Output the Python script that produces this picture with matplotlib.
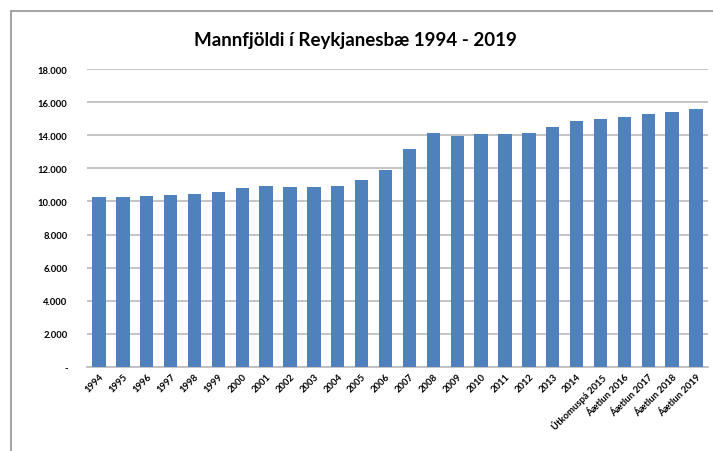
import matplotlib.pyplot as plt
from matplotlib.patches import Rectangle
from matplotlib.ticker import FuncFormatter

# population of Reykjanesbær
years = ["1994", "1995", "1996", "1997", "1998", "1999", "2000", "2001", "2002",
         "2003", "2004", "2005", "2006", "2007", "2008", "2009", "2010", "2011",
         "2012", "2013", "2014", "Útkomuspá 2015", "Áætlun 2016", "Áætlun 2017",
         "Áætlun 2018", "Áætlun 2019"]
population = [10290, 10290, 10300, 10370, 10450, 10590, 10800, 10930, 10850,
              10850, 10930, 11280, 11920, 13180, 14150, 13950, 14050, 14050,
              14150, 14490, 14850, 15010, 15130, 15290, 15430, 15570]
yticks = [0, 2000, 4000, 6000, 8000, 10000, 12000, 14000, 16000, 18000]

plt.rcParams['font.family'] = ['Lato', 'DejaVu Sans']

fig = plt.figure(figsize=(7.13, 4.52), dpi=100)
fig.patches.append(Rectangle((11 / 713, -0.1), 1.2, 1 - 12 / 452 + 0.1,
                             transform=fig.transFigure, fill=False,
                             edgecolor='#a6a6a6', linewidth=1.5))

ax = fig.add_axes([0.122, 0.186, 0.871, 0.659])
x = range(len(years))
ax.bar(x, population, width=0.56, color='#4f81bd', zorder=3)

ax.set_xlim(-0.5, len(years) - 0.5)
ax.set_ylim(0, 18000)
ax.set_yticks(yticks)


def fmt(v, pos):
    if v == 0:
        return '-'
    return f"{int(v):,}".replace(",", ".")


ax.yaxis.set_major_formatter(FuncFormatter(fmt))
ax.grid(axis='y', color='#bfbfbf', linewidth=1.3, zorder=0)
for s in ['top', 'right', 'left']:
    ax.spines[s].set_visible(False)
ax.spines['bottom'].set_color('#bfbfbf')
ax.spines['bottom'].set_linewidth(1.3)
ax.tick_params(axis='both', length=0, labelsize=6.8)
ax.tick_params(axis='y', pad=14)
ax.set_xticks(list(x))
ax.set_xticklabels(years, rotation=45, ha='right', rotation_mode='anchor',
                   fontweight='bold')
for lab in ax.get_yticklabels():
    lab.set_fontweight('bold')

fig.text(0.498, 0.91, "Mannfjöldi í Reykjanesbæ 1994 - 2019", ha='center',
         va='center', fontsize=13.5, fontweight='bold')

fig.savefig("out.png", dpi=100)
